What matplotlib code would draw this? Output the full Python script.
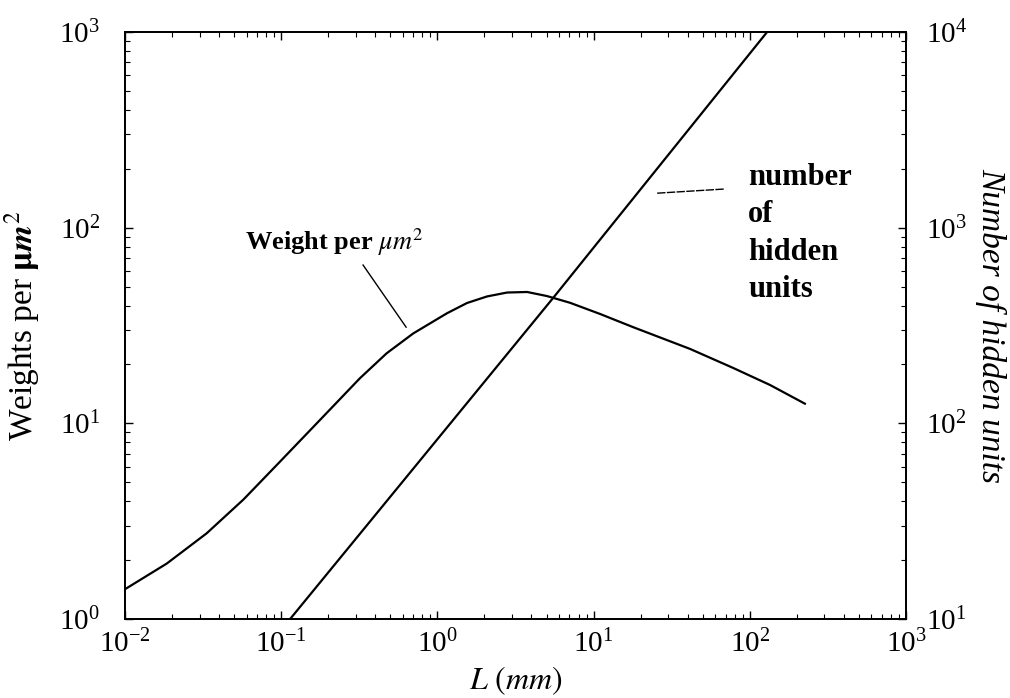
import matplotlib
matplotlib.use("Agg")
import matplotlib.pyplot as plt
from matplotlib.ticker import LogLocator

plt.rcParams['font.family'] = ['Liberation Serif', 'DejaVu Serif']
plt.rcParams['mathtext.fontset'] = 'stix'

# curva de pesos por um^2 (eixo esquerdo)
L_w = [0.0100, 0.0185, 0.0333, 0.0573, 0.0982, 0.177, 0.319, 0.473, 0.700,
       1.15, 1.547, 2.077, 2.79, 3.75, 5.03, 7.06, 11.0, 17.9, 41.4, 78,
       134.6, 225]
w = [1.42, 1.92, 2.74, 4.08, 6.37, 10.4, 17.0, 22.8, 28.8,
     36.5, 41.2, 44.5, 46.6, 46.9, 44.7, 41.3, 36.2, 31, 24.0, 19.2,
     15.7, 12.6]

# numero de unidades escondidas (eixo direito)
L_h = [0.114, 5.5, 129]
h = [10, 437, 10000]

fig = plt.figure(figsize=(10.1, 6.98), dpi=100)
ax = fig.add_axes([0.1238, 0.1132, 0.7733, 0.841])
ax2 = ax.twinx()

ax.plot(L_w, w, 'k', lw=1.6)
ax2.plot(L_h, h, 'k', lw=1.6)

ax.set_xscale('log')
ax.set_yscale('log')
ax2.set_yscale('log')
ax.set_xlim(1e-2, 1e3)
ax.set_ylim(1, 1e3)
ax2.set_ylim(10, 1e4)

for a in (ax, ax2):
    a.xaxis.set_major_locator(LogLocator(base=10, numticks=10))
    a.xaxis.set_minor_locator(LogLocator(base=10, subs=range(2, 10), numticks=20))
    a.yaxis.set_minor_locator(LogLocator(base=10, subs=range(2, 10), numticks=20))
    for s in a.spines.values():
        s.set_linewidth(1.3)

ax.tick_params(axis='x', which='both', direction='in', top=True, labelsize=21, pad=8)
ax.tick_params(axis='y', which='both', direction='in', right=False, labelsize=21, pad=18)
ax.tick_params(which='major', length=6, width=1)
ax.tick_params(which='minor', length=3.5, width=0.8)
ax2.tick_params(axis='y', which='both', direction='in', labelsize=21, pad=14)
ax2.tick_params(which='major', length=6, width=1)
ax2.tick_params(which='minor', length=3.5, width=0.8)

ax.set_xlabel('$\\mathit{L\\ (mm)}$', fontsize=23)
ax.xaxis.set_label_coords(0.5, -0.077)
ax.set_ylabel('Weights per $\\mathbf{\\mu}\\mathbfit{m}^{2}$', fontsize=24)
ax.yaxis.set_label_coords(-0.106, 0.5)
ax2.set_ylabel('Number of hidden units', fontsize=24, style='italic',
               rotation=270, va='bottom')
ax2.yaxis.set_label_coords(1.088, 0.5)

# anotacoes
ax.text(0.0586, 76.9, 'Weight per $\\mu m^{2}$', fontsize=19, fontweight='bold',
        va='baseline')
ax.plot([0.334, 0.63], [64.4, 31.0], 'k', lw=1)

linhas = ['number', 'of', 'hidden', 'units']
bases = [165, 106.9, 68.3, 44.2]
for txt, yb in zip(linhas, bases):
    ax.text(97.5, yb, txt, fontsize=22, fontweight='bold', va='baseline')
ax.plot([25.5, 68.4], [150, 157.5], 'k', lw=1, ls=(0, (6, 1)))

plt.savefig('out.png', dpi=100)
